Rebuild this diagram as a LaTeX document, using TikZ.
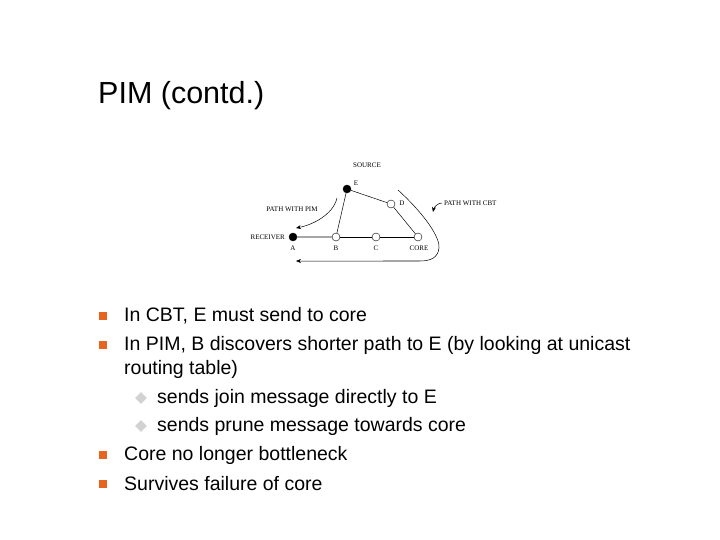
\documentclass[tikz,border=0pt]{standalone}
\usepackage{fontspec}
\setmainfont{Liberation Sans}
\newfontfamily\dfont{Liberation Serif}
\usetikzlibrary{arrows.meta,shapes.geometric}
\begin{document}
\begin{tikzpicture}[x=1pt,y=-1pt,
  full/.style={circle,fill=black,draw=black,inner sep=0pt,minimum size=8pt},
  hollow/.style={circle,fill=white,draw=black,inner sep=0pt,minimum size=8pt},
  lab/.style={font=\dfont\fontsize{7}{8}\selectfont,inner sep=0pt},
  btxt/.style={anchor=west,font=\fontsize{19.5}{22}\selectfont,inner sep=0pt},
  bul/.style={fill={rgb,255:red,230;green,100;blue,30},minimum size=8pt,inner sep=0pt},
  sbul/.style={diamond,fill=gray!35,minimum size=12pt,inner sep=0pt},
  edge/.style={draw=black,line width=0.5pt},
  arr/.style={draw=black,line width=0.5pt,-{Stealth[length=5pt,width=4pt]}}]
\useasboundingbox (0,0) rectangle (720,540);
\node[anchor=west,font=\fontsize{30.5}{34}\selectfont,inner sep=0pt] (title) at (98,96) {PIM (contd.)};
% diagram
\node[full] (E) at (347,189) {};
\node[hollow] (D) at (391,204) {};
\node[full] (A) at (293,237) {};
\node[hollow] (B) at (336,237) {};
\node[hollow] (C) at (376,237) {};
\node[hollow] (CORE) at (418,237) {};
\node[lab] (src) at (367,165) {SOURCE};
\node[lab] (lE) at (356,183) {E};
\node[lab] (lD) at (402,203) {D};
\node[lab] (pim) at (292,209) {PATH WITH PIM};
\node[lab,anchor=east] (rec) at (285,237) {RECEIVER};
\node[lab] (lA) at (293,248) {A};
\node[lab] (lB) at (336,248) {B};
\node[lab] (lC) at (376,248) {C};
\node[lab] (lCORE) at (419,248) {CORE};
\node[lab,anchor=west] (cbt) at (444,203) {PATH WITH CBT};
\draw[draw=gray!70,line width=1.5pt] (A) -- (B);
\draw[edge] (B) -- (C);
\draw[edge] (C) -- (CORE);
\draw[edge] (E) -- (B);
\draw[edge] (E) -- (D);
\draw[edge] (D) -- (CORE);
\coordinate (p1) at (337,198);
\coordinate (p2) at (296,228);
\draw[arr] (p1) .. controls (333,215) and (312,225) .. (p2);
\coordinate (q1) at (398,190);
\coordinate (q2) at (296,261);
\draw[arr] (q1) .. controls (420,210) and (440,235) .. (439,248)
  .. controls (438,258) and (430,261) .. (420,261) -- (q2);
\draw[draw=gray!70,line width=1.5pt] (383,261) -- (420,261);
\coordinate (r1) at (442,203);
\coordinate (r2) at (433,212);
\draw[arr] (r1) .. controls (438,203) and (434,207) .. (r2);
% bullets
\foreach \y/\t [count=\i] in {316/{In CBT, E must send to core},
  345/{In PIM, B discovers shorter path to E (by looking at unicast},
  455/{Core no longer bottleneck}, 484/{Survives failure of core}}{
  \node[bul] (b\i) at (103,\y) {};
  \node[btxt] (t\i) at (124,\y) {\t};
}
\node[btxt] (t2b) at (124,369) {routing table)};
\node[sbul] (s1) at (141,398) {};
\node[btxt] (u1) at (157,398) {sends join message directly to E};
\node[sbul] (s2) at (141,426) {};
\node[btxt] (u2) at (157,426) {sends prune message towards core};
\end{tikzpicture}
\end{document}
